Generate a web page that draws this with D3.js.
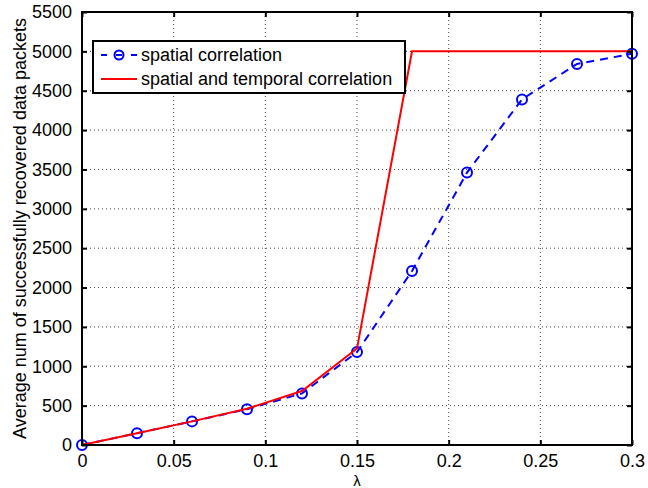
<!DOCTYPE html>
<html>
<head>
<meta charset="utf-8">
<script src="https://d3js.org/d3.v7.min.js"></script>
<style>
  body { margin: 0; background: #fff; }
  text { font-family: "Liberation Sans", Arial, sans-serif; }
</style>
</head>
<body>
<script>
// data
const lambda = [0, 0.03, 0.06, 0.09, 0.12, 0.15, 0.18, 0.21, 0.24, 0.27, 0.3];
const spatial = [0, 150, 300, 455, 655, 1180, 2210, 3460, 4390, 4840, 4970];
const spatialTemporal = [0, 150, 300, 460, 685, 1225, 5000, 5000, 5000, 5000, 5000];
const xTicks = [0, 0.05, 0.1, 0.15, 0.2, 0.25, 0.3];
const yTicks = d3.range(0, 5501, 500);
const seriesNames = ["spatial correlation", "spatial and temporal correlation"];

const w = 648, h = 488;
const padL = 82, padR = 632, padT = 12, padB = 445;
const fontSize = 18;

const svg = d3.select("body").append("svg")
  .attr("width", w).attr("height", h);

const x = d3.scaleLinear().domain([0, 0.3]).range([padL, padR]);
const y = d3.scaleLinear().domain([0, 5500]).range([padB, padT]);

// dotted grid
const grid = svg.append("g");
grid.selectAll(".gx").data(xTicks.slice(1, -1)).enter().append("line")
  .attr("x1", d => x(d)).attr("x2", d => x(d))
  .attr("y1", padT).attr("y2", padB)
  .attr("stroke", "#444").attr("stroke-width", 1).attr("stroke-dasharray", "1,3");
grid.selectAll(".gy").data(yTicks.slice(1, -1)).enter().append("line")
  .attr("x1", padL).attr("x2", padR)
  .attr("y1", d => y(d)).attr("y2", d => y(d))
  .attr("stroke", "#444").attr("stroke-width", 1).attr("stroke-dasharray", "1,3");

// lines
const line = d3.line().x((d, i) => x(lambda[i])).y(d => y(d));

svg.append("path").datum(spatial)
  .attr("d", line).attr("fill", "none")
  .attr("stroke", "#0000ff").attr("stroke-width", 2)
  .attr("stroke-dasharray", "8,6");

svg.selectAll(".dot").data(spatial).enter().append("circle")
  .attr("cx", (d, i) => x(lambda[i])).attr("cy", d => y(d))
  .attr("r", 5).attr("fill", "none")
  .attr("stroke", "#0000ff").attr("stroke-width", 2);

svg.append("path").datum(spatialTemporal)
  .attr("d", line).attr("fill", "none")
  .attr("stroke", "#ff0000").attr("stroke-width", 2);

// axes (ticks inward, box)
const xAxis = d3.axisBottom(x).tickValues(xTicks).tickFormat(d3.format("")).tickSizeInner(-5).tickSizeOuter(0).tickPadding(9);
const yAxis = d3.axisLeft(y).tickValues(yTicks).tickFormat(d3.format("d")).tickSizeInner(-5).tickSizeOuter(0).tickPadding(10);

const gx = svg.append("g").attr("transform", `translate(0,${padB})`).call(xAxis);
const gy = svg.append("g").attr("transform", `translate(${padL},0)`).call(yAxis);
const gxTop = svg.append("g").attr("transform", `translate(0,${padT})`)
  .call(d3.axisTop(x).tickValues(xTicks).tickFormat("").tickSizeInner(-5).tickSizeOuter(0));
const gyRight = svg.append("g").attr("transform", `translate(${padR},0)`)
  .call(d3.axisRight(y).tickValues(yTicks).tickFormat("").tickSizeInner(-5).tickSizeOuter(0));

[gx, gy, gxTop, gyRight].forEach(g => {
  g.selectAll(".domain").remove();
  g.selectAll(".tick line").attr("stroke", "#000").attr("stroke-width", 2);
  g.selectAll("text").attr("fill", "#000").style("font-size", fontSize + "px")
    .style("font-family", "'Liberation Sans', Arial, sans-serif");
});

svg.append("rect")
  .attr("x", padL).attr("y", padT)
  .attr("width", padR - padL).attr("height", padB - padT)
  .attr("fill", "none").attr("stroke", "#000").attr("stroke-width", 2);

// axis labels
svg.append("text")
  .attr("x", (padL + padR) / 2).attr("y", 486)
  .attr("text-anchor", "middle").style("font-size", "15px")
  .text("λ");

svg.append("text")
  .attr("transform", `translate(26,${(padT + padB) / 2}) rotate(-90)`)
  .attr("text-anchor", "middle").style("font-size", fontSize + "px")
  .text("Average num of successfully recovered data packets");

// legend
const legend = svg.append("g");
legend.append("rect")
  .attr("x", 93).attr("y", 41).attr("width", 312).attr("height", 52)
  .attr("fill", "#fff").attr("stroke", "#000").attr("stroke-width", 2);

legend.append("line")
  .attr("x1", 101).attr("x2", 137).attr("y1", 55).attr("y2", 55)
  .attr("stroke", "#0000ff").attr("stroke-width", 2).attr("stroke-dasharray", "6,9");
legend.append("circle")
  .attr("cx", 119).attr("cy", 55).attr("r", 4.5)
  .attr("fill", "none").attr("stroke", "#0000ff").attr("stroke-width", 2);
legend.append("line")
  .attr("x1", 101).attr("x2", 137).attr("y1", 79).attr("y2", 79)
  .attr("stroke", "#ff0000").attr("stroke-width", 2);

legend.selectAll(".ltext").data(seriesNames).enter().append("text")
  .attr("x", 141).attr("y", (d, i) => 61 + i * 24)
  .style("font-size", fontSize + "px")
  .text(d => d);
</script>
</body>
</html>
